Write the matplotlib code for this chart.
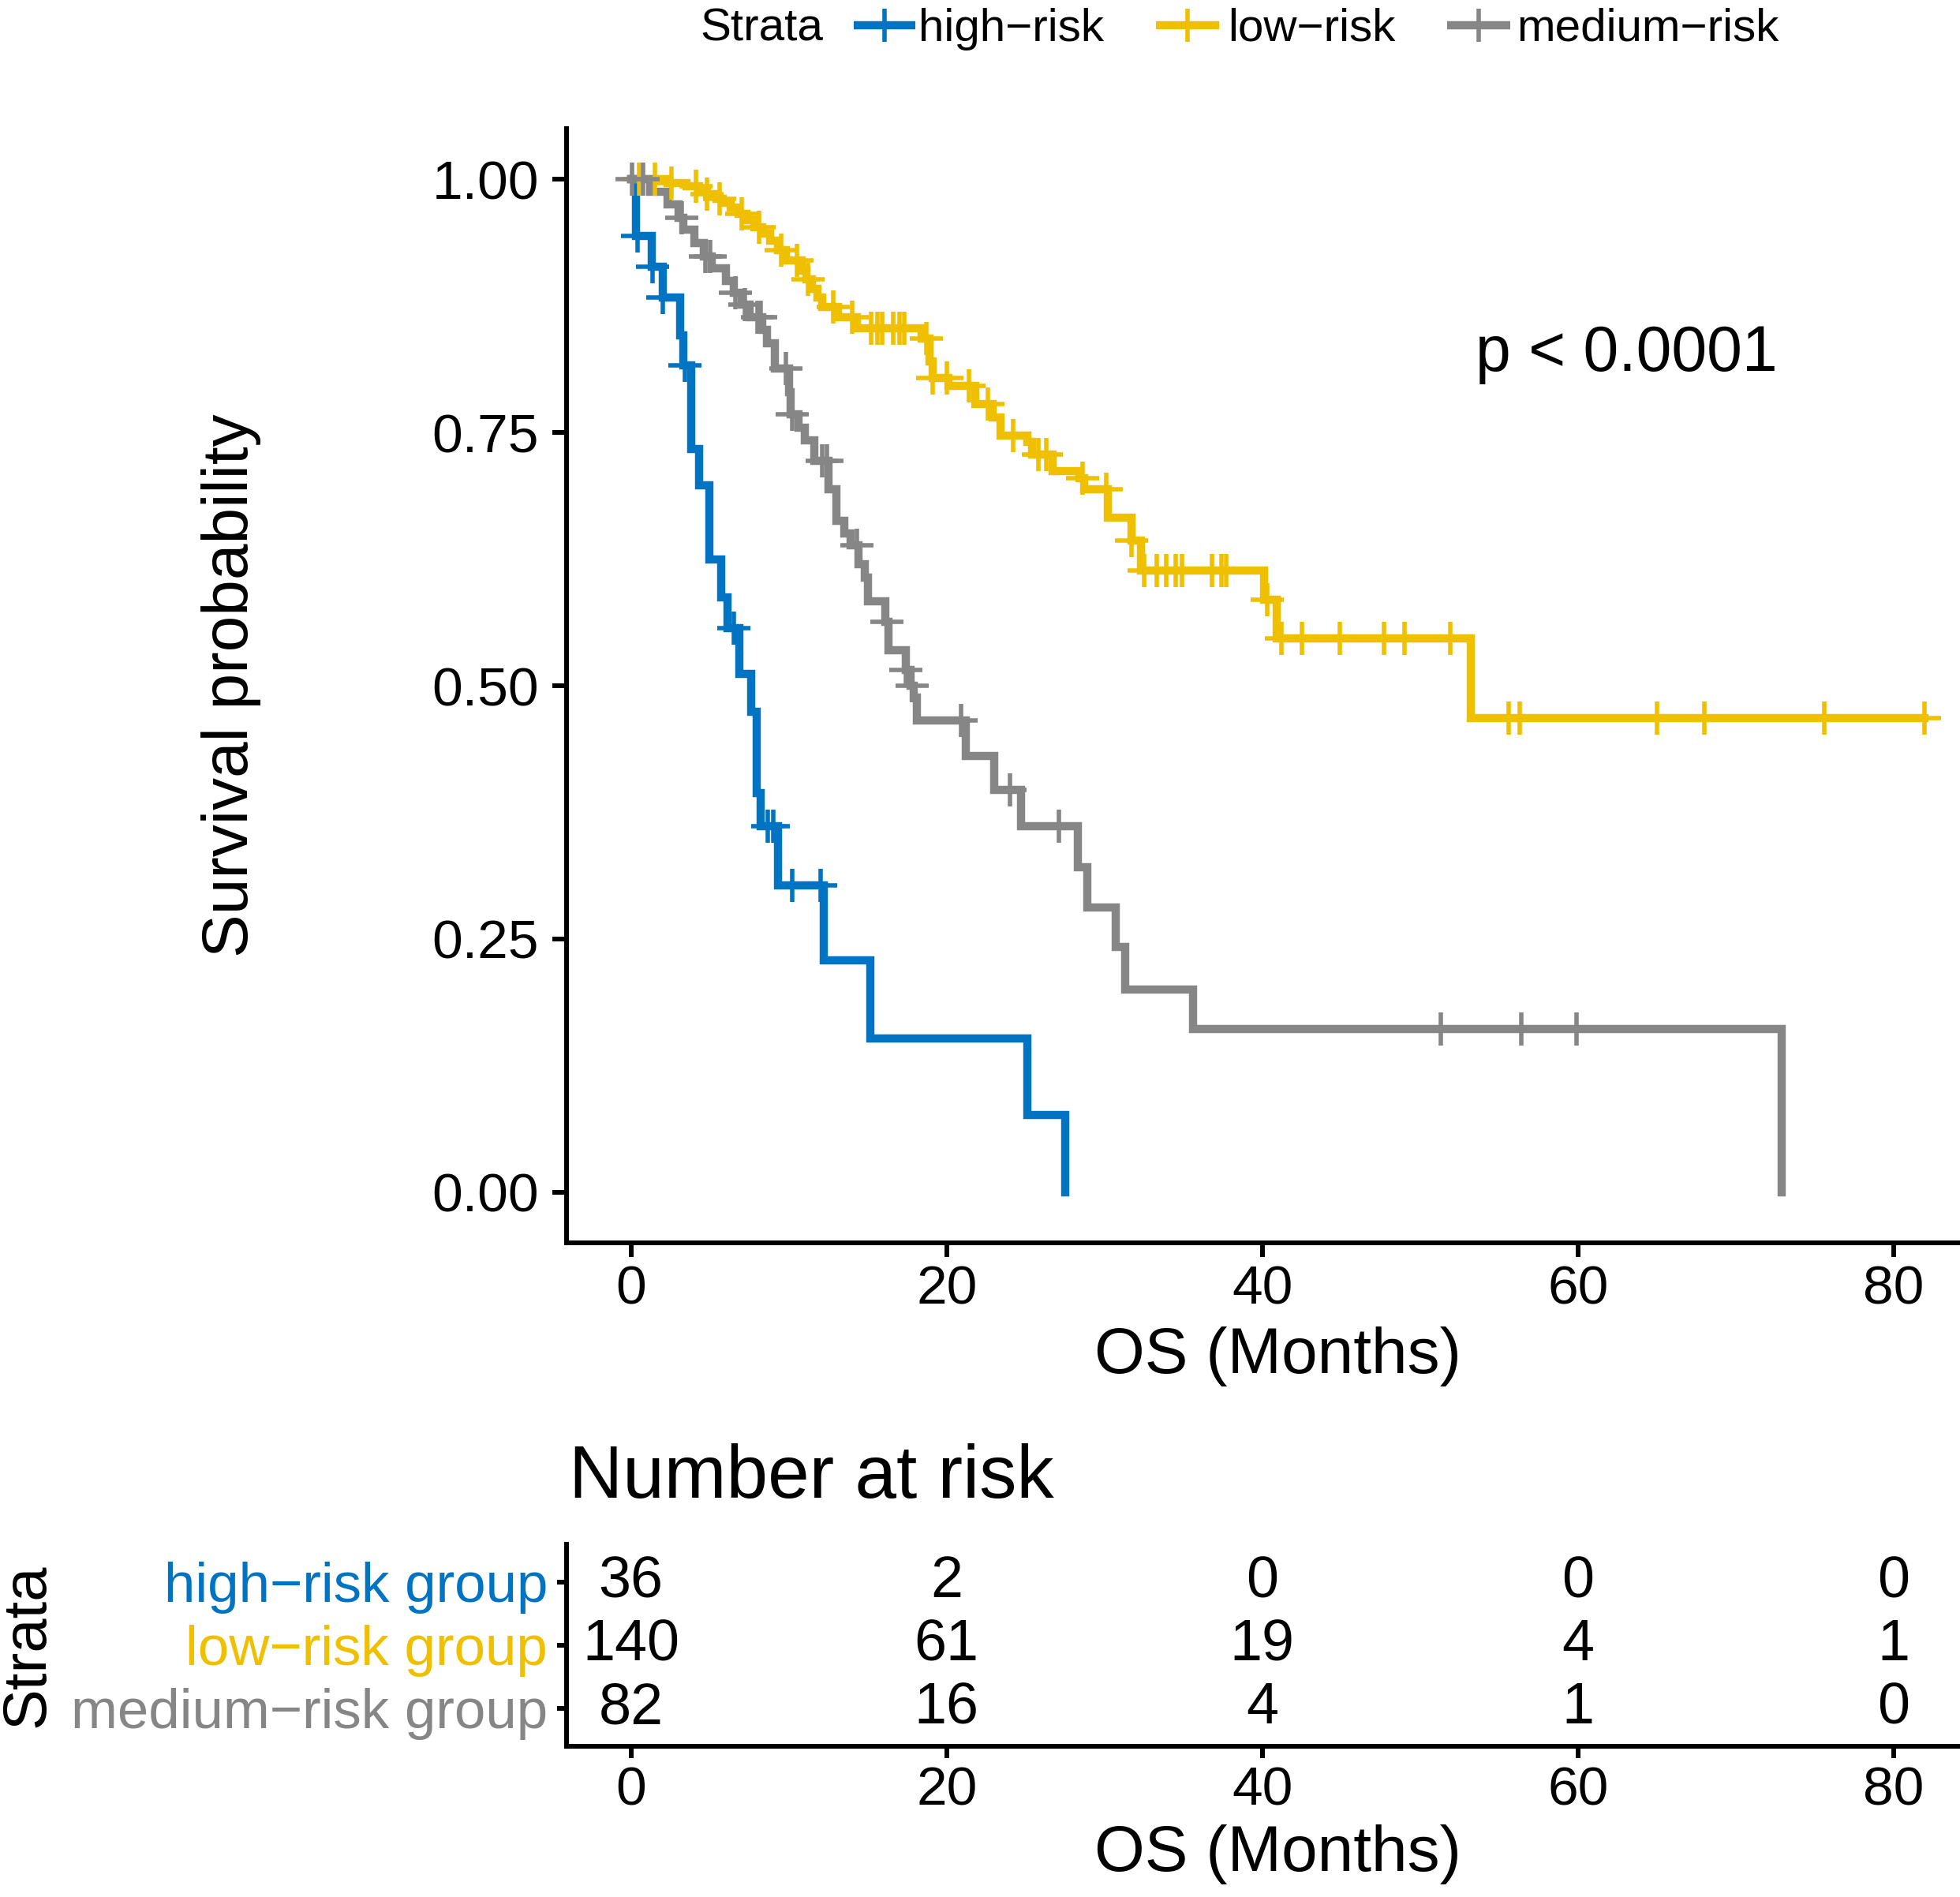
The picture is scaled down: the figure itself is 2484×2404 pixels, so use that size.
import numpy as np
import matplotlib
matplotlib.use("Agg")
import matplotlib.pyplot as plt
from matplotlib.lines import Line2D

plt.rcParams['font.family'] = ['Liberation Sans', 'DejaVu Sans']

# ---------------- data ----------------
strata = ["high\u2212risk", "low\u2212risk", "medium\u2212risk"]
risk_labels = ["high\u2212risk group", "low\u2212risk group", "medium\u2212risk group"]
colors = ["#0073C2", "#EFC000", "#868686"]

# high-risk: step times (months) and survival after each step
high_t = [0.3, 1.3, 2.0, 3.1, 3.3, 3.8, 4.3, 4.96, 5.74, 6.1, 6.85, 7.6, 7.95, 8.2,
          9.3, 12.2, 15.15, 25.1, 27.5]
high_s = [0.944, 0.914, 0.883, 0.846, 0.816, 0.734, 0.698, 0.625, 0.587, 0.557, 0.512,
          0.474, 0.394, 0.361, 0.303, 0.229, 0.152, 0.076, 0.0]
high_end = 27.5
high_cens = [0.4, 1.35, 2.0, 3.4, 6.5, 8.65, 9.0, 10.2, 12.0]

low_t = [2.3, 3.5, 4.3, 4.8, 5.4, 5.8, 6.3, 6.8, 7.3, 7.8, 8.3, 8.8, 9.3, 9.8, 10.8,
         11.1, 11.46, 11.8, 12.1, 13.1, 14.3, 18.4, 18.9, 19.1, 20.1, 21.8, 22.9,
         23.4, 25.1, 25.4, 26.7, 28.4, 28.7, 30.2, 31.7, 32.3, 40.1, 40.9, 53.2]
low_s = [0.996, 0.993, 0.989, 0.985, 0.981, 0.977, 0.972, 0.966, 0.960, 0.953, 0.946,
         0.939, 0.930, 0.920, 0.910, 0.901, 0.892, 0.883, 0.874, 0.864, 0.853, 0.843,
         0.820, 0.804, 0.796, 0.778, 0.765, 0.747, 0.741, 0.728, 0.712, 0.705, 0.694,
         0.666, 0.643, 0.614, 0.585, 0.547, 0.468]
low_end = 81.95
low_cens = [0.5, 1.5, 2.55, 4.1, 4.8, 5.6, 7.0, 8.1, 9.5, 10.5, 11.2, 12.8, 14.0,
            15.2, 15.6, 15.9, 16.6, 17.0, 17.3, 18.7, 19.1, 20.0, 21.4, 22.6, 24.2,
            25.8, 26.3, 28.6, 30.1, 31.7, 32.5, 33.3, 33.9, 34.5, 34.9, 36.8, 37.4,
            37.7, 40.3, 41.2, 42.5, 44.9, 47.7, 49.0, 51.9, 55.6, 56.3, 65.0, 68.0,
            75.6, 81.95]

med_t = [1.2, 2.3, 3.0, 3.3, 4.0, 4.6, 5.1, 6.0, 6.5, 7.0, 7.5, 8.3, 8.6, 9.1, 10.0,
         10.1, 10.6, 11.0, 11.6, 12.5, 13.0, 13.5, 13.9, 14.4, 14.8, 15.0, 16.1, 16.3,
         17.4, 17.7, 17.9, 18.1, 21.2, 23.0, 24.7, 28.3, 28.9, 30.7, 31.3, 35.6, 72.9]
med_s = [0.988, 0.975, 0.962, 0.950, 0.937, 0.924, 0.912, 0.900, 0.888, 0.876, 0.864,
         0.851, 0.838, 0.813, 0.790, 0.768, 0.755, 0.742, 0.722, 0.694, 0.663, 0.650,
         0.639, 0.620, 0.607, 0.583, 0.563, 0.535, 0.516, 0.500, 0.488, 0.466, 0.431,
         0.397, 0.361, 0.321, 0.281, 0.242, 0.200, 0.161, 0.0]
med_end = 72.9
med_cens = [0.05, 0.75, 3.2, 4.7, 5.0, 6.6, 7.2, 8.0, 8.2, 9.8, 10.2, 12.1, 12.4, 14.3,
            16.2, 17.4, 17.8, 20.9, 24.0, 27.1, 51.3, 56.4, 59.9]

risk_times = [0, 20, 40, 60, 80]
risk_high = [36, 2, 0, 0, 0]
risk_low = [140, 61, 19, 4, 1]
risk_med = [82, 16, 4, 1, 0]

xticks = [0, 20, 40, 60, 80]
yticks = [0.00, 0.25, 0.50, 0.75, 1.00]
pval_text = "p < 0.0001"

# ---------------- figure ----------------
fig = plt.figure(figsize=(24.84, 24.04), dpi=100)
ax = fig.add_axes([0.2889, 0.3448, 0.7260, 0.5874])
ax2 = fig.add_axes([0.2889, 0.0795, 0.7260, 0.1065])

XLIM = (-4.1, 86.05)
LW = 7.5
MS = 30
MEW = 4.0


def surv_at(ts, ss, t):
    tt = np.r_[0.0, ts]
    sv = np.r_[1.0, ss]
    idx = np.searchsorted(tt, t, side='right') - 1
    return sv[idx]


series = [(high_t, high_s, high_end, high_cens),
          (low_t, low_s, low_end, low_cens),
          (med_t, med_s, med_end, med_cens)]

for (ts, ss, end, cens), col in zip(series, colors):
    t = np.r_[0.0, ts, end]
    s = np.r_[1.0, ss, ss[-1]]
    ax.step(t, s, where='post', color=col, lw=LW, solid_joinstyle='miter', zorder=3)
    cy = surv_at(ts, ss, np.array(cens))
    ax.plot(cens, cy, ls='none', marker='+', ms=MS, mew=MEW, color=col, zorder=4)

ax.set_xlim(*XLIM)
ax.set_ylim(-0.05, 1.05)
ax.set_xticks(xticks)
ax.set_yticks(yticks)
ax.set_yticklabels([f"{v:.2f}" for v in yticks])
for sp in ['top', 'right']:
    ax.spines[sp].set_visible(False)
for sp in ['left', 'bottom']:
    ax.spines[sp].set_linewidth(4.3)
ax.tick_params(axis='both', width=4.3, length=13, labelsize=50, color='black')
ax.tick_params(axis='x', pad=7)
ax.tick_params(axis='y', pad=12)
ax.set_xlabel("OS (Months)", fontsize=59)
ax.xaxis.set_label_coords(0.5, -0.102)
ax.xaxis.label.set_verticalalignment('center')
ax.set_ylabel("Survival probability", fontsize=59)
ax.yaxis.set_label_coords(-0.2354, 0.5)
ax.yaxis.label.set_verticalalignment('center')
ax.text(53.5, 0.827, pval_text, fontsize=58, ha='left', va='center')

# ---------------- legend ----------------
ly = 0.9867
lyb = 0.9784
fig.text(0.3571, lyb, "Strata", fontsize=42, ha='left', va='baseline')
key_x = [(0.4356, 0.4670, 0.4686), (0.5898, 0.6220, 0.6264), (0.7383, 0.7705, 0.7738)]
for (x0, x1, xt), col, lab in zip(key_x, colors, strata):
    fig.add_artist(Line2D([x0, x1], [ly, ly], transform=fig.transFigure, color=col,
                          lw=LW, solid_capstyle='butt'))
    fig.add_artist(Line2D([(x0 + x1) / 2], [ly], transform=fig.transFigure, color=col,
                          ls='none', marker='+', ms=MS, mew=MEW))
    fig.text(xt, lyb, lab, fontsize=42, ha='left', va='baseline')

# ---------------- risk table ----------------
rows = [risk_high, risk_low, risk_med]
for r, vals in enumerate(rows, start=1):
    for t, n in zip(risk_times, vals):
        ax2.text(t, r, str(n), fontsize=53, ha='center', va='center')

ax2.set_xlim(*XLIM)
ax2.set_ylim(3.6, 0.4)
ax2.set_xticks(xticks)
ax2.set_yticks([1, 2, 3])
ax2.set_yticklabels(risk_labels)
for lab, col in zip(ax2.get_yticklabels(), colors):
    lab.set_color(col)
for sp in ['top', 'right']:
    ax2.spines[sp].set_visible(False)
for sp in ['left', 'bottom']:
    ax2.spines[sp].set_linewidth(4.3)
ax2.tick_params(axis='both', width=4.3, labelsize=51, color='black')
ax2.tick_params(axis='x', length=11, pad=7, labelsize=50)
ax2.tick_params(axis='y', length=9, pad=8)
ax2.set_xlabel("OS (Months)", fontsize=59)
ax2.xaxis.set_label_coords(0.5, -0.535)
ax2.xaxis.label.set_verticalalignment('center')
ax2.set_ylabel("Strata", fontsize=56)
ax2.yaxis.set_label_coords(-0.3785, 0.5)
ax2.yaxis.label.set_verticalalignment('center')
ax2.text(0.002, 1.324, "Number at risk", transform=ax2.transAxes, fontsize=68,
         ha='left', va='center')

fig.savefig("out.png", dpi=100)
